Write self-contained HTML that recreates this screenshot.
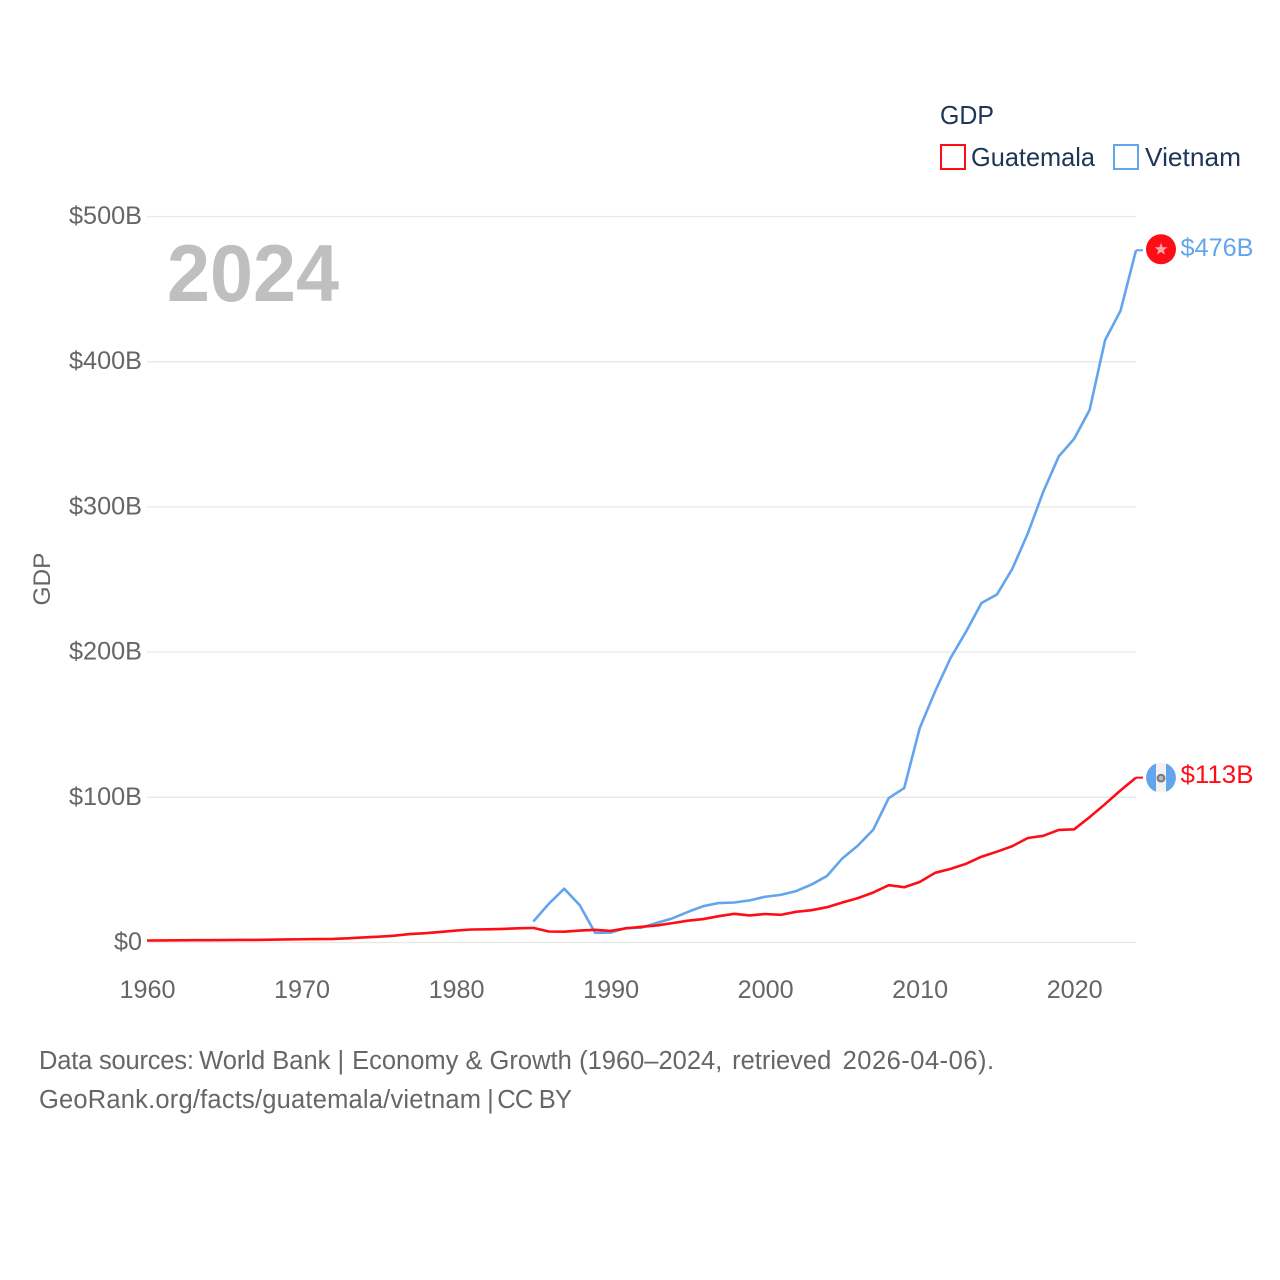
<!DOCTYPE html>
<html lang="en">
<head>
<meta charset="utf-8">
<title>GDP: Guatemala and Vietnam</title>
<style>
html,body{margin:0;padding:0;background:#fff;width:1280px;height:1280px;overflow:hidden}
svg{display:block}
text{font-family:"Liberation Sans",sans-serif}
</style>
</head>
<body>
<svg id="chart" width="1280" height="1280" viewBox="0 0 1280 1280" xmlns="http://www.w3.org/2000/svg">
  <rect width="1280" height="1280" fill="#fff"/>
  <g id="grid"></g>
  <g id="yticks"></g>
  <g id="xticks"></g>
  <text transform="translate(50,579) rotate(-90)" text-anchor="middle" font-size="24" fill="#666" textLength="53" lengthAdjust="spacingAndGlyphs">GDP</text>
  <text x="167" y="301" font-size="81" font-weight="700" fill="#bfbfbf" textLength="172" lengthAdjust="spacingAndGlyphs">2024</text>

  <g>
    <text x="940" y="124" font-size="26" fill="#1d3557" textLength="54" lengthAdjust="spacingAndGlyphs">GDP</text>
    <g>
      <rect x="941" y="145" width="24" height="24" fill="#fff" stroke="#ff0d17" stroke-width="2"/>
      <text x="971" y="166" font-size="26" fill="#1d3557" textLength="124" lengthAdjust="spacingAndGlyphs">Guatemala</text>
    </g>
    <g>
      <rect x="1114" y="145" width="24" height="24" fill="#fff" stroke="#62a5ee" stroke-width="2"/>
      <text x="1145" y="166" font-size="26" fill="#1d3557" textLength="96" lengthAdjust="spacingAndGlyphs">Vietnam</text>
    </g>
  </g>

  <g id="series" transform="translate(0,-0.5)"></g>
  <g id="ends"></g>

  <text y="1069" font-size="25.5" fill="#666"><tspan x="39" letter-spacing="-0.2">Data sources:</tspan><tspan x="192"> World Bank |</tspan><tspan x="345"> Economy &amp; Growth</tspan><tspan x="572"> (1960–2024,</tspan><tspan x="725"> retrieved</tspan><tspan x="835" letter-spacing="0.5"> 2026-04-06).</tspan></text>
  <text y="1108" font-size="25.5" fill="#666"><tspan x="39" letter-spacing="0.2">GeoRank.org/facts/guatemala/vietnam</tspan><tspan x="480"> |</tspan><tspan x="491" letter-spacing="-0.8"> CC BY</tspan></text>
</svg>
<script>
const years = [1960,1961,1962,1963,1964,1965,1966,1967,1968,1969,1970,1971,1972,1973,1974,1975,1976,1977,1978,1979,1980,1981,1982,1983,1984,1985,1986,1987,1988,1989,1990,1991,1992,1993,1994,1995,1996,1997,1998,1999,2000,2001,2002,2003,2004,2005,2006,2007,2008,2009,2010,2011,2012,2013,2014,2015,2016,2017,2018,2019,2020,2021,2022,2023,2024];
const guatemalaGdp = [1.04,1.08,1.14,1.24,1.27,1.31,1.39,1.45,1.60,1.74,1.90,1.99,2.10,2.57,3.16,3.64,4.37,5.48,6.07,6.90,7.88,8.61,8.72,9.03,9.40,9.72,7.23,7.08,7.87,8.41,7.65,9.41,10.44,11.40,12.98,14.66,15.79,17.79,19.40,18.32,19.29,18.70,20.78,21.92,23.97,27.21,30.23,34.11,39.14,37.73,41.34,47.65,50.39,53.85,58.72,62.19,66.05,71.62,73.14,77.17,77.6,86.0,95.0,104.4,113.2];
const vietnamGdp = [null,null,null,null,null,null,null,null,null,null,null,null,null,null,null,null,null,null,null,null,null,null,null,null,null,14.1,26.3,36.7,25.4,6.3,6.47,9.61,9.87,13.18,16.29,20.74,24.66,26.84,27.21,28.68,31.17,32.45,35.06,39.55,45.43,57.63,66.37,77.41,99.13,106.01,147.2,172.6,195.6,213.7,233.5,239.3,257.1,281.4,310.1,334.4,346.6,366.5,414.5,434.8,476.4];
const yTickValues = [0,100,200,300,400,500];
const yTickLabels = ["$0","$100B","$200B","$300B","$400B","$500B"];
const xTickValues = [1960,1970,1980,1990,2000,2010,2020];
const xTickLabels = ["1960","1970","1980","1990","2000","2010","2020"];

const NS = 'http://www.w3.org/2000/svg';
const xScale = yr => 147 + (yr - 1960) * (1136 - 147) / 64;
const yScale = v => 942.5 - v * (942.5 - 216.5) / 500;
function mk(tag, attrs, parent, txt) {
  const el = document.createElementNS(NS, tag);
  for (const k in attrs) el.setAttribute(k, attrs[k]);
  if (txt !== undefined) el.textContent = txt;
  parent.appendChild(el);
  return el;
}

const grid = document.getElementById('grid');
const yticks = document.getElementById('yticks');
yTickValues.forEach((v, i) => {
  const line = mk('line', {x1: 147, x2: 1136, y1: yScale(v), y2: yScale(v), stroke: '#e8e8e8', 'stroke-width': 1.3}, grid);
  
  
  const label = mk('text', {x: 142, y: yScale(v) + 7.5, 'text-anchor': 'end', 'font-size': 25, fill: '#666'}, yticks, yTickLabels[i]);
  
  
  label.setAttribute('textLength', v === 0 ? 28 : 73);
  label.setAttribute('lengthAdjust', 'spacingAndGlyphs');
});

const xticks = document.getElementById('xticks');
xTickValues.forEach((yr, i) => {
  const label = mk('text', {x: xScale(yr) + 0.5, y: 998, 'text-anchor': 'middle', 'font-size': 25, fill: '#666'}, xticks, xTickLabels[i]);
  
  
  label.setAttribute('textLength', 56);
  label.setAttribute('lengthAdjust', 'spacingAndGlyphs');
});

const seriesG = document.getElementById('series');
function linePath(values) {
  let d = '';
  values.forEach((v, i) => {
    if (v === null) return;
    d += (d ? 'L' : 'M') + xScale(years[i]).toFixed(2) + ' ' + yScale(v).toFixed(2);
  });
  return d;
}
const vietnamLine = mk('path', {d: linePath(vietnamGdp), fill: 'none', stroke: '#62a5ee', 'stroke-width': 2.6, 'stroke-linejoin': 'round'}, seriesG);


const guatemalaLine = mk('path', {d: linePath(guatemalaGdp), fill: 'none', stroke: '#ff0d17', 'stroke-width': 2.6, 'stroke-linejoin': 'round'}, seriesG);



const ends = document.getElementById('ends');
const lastIdx = years.length - 1;
const vY = yScale(vietnamGdp[lastIdx]);
const gY = yScale(guatemalaGdp[lastIdx]);

const vLead = mk('line', {x1: xScale(2024), x2: 1143, y1: vY - 0.5, y2: vY - 0.5, stroke: '#62a5ee', 'stroke-width': 2}, ends);


const gLead = mk('line', {x1: xScale(2024), x2: 1143, y1: gY - 0.5, y2: gY - 0.5, stroke: '#ff0d17', 'stroke-width': 2}, ends);



const vFlag = mk('g', {transform: 'translate(1161,' + (vY - 1.5) + ')'}, ends);


mk('circle', {r: 15, fill: '#ff0d17'}, vFlag);
mk('polygon', {points: '0,-6.5 1.7,-2 6.5,-2 2.7,0.9 4.1,5.4 0,2.7 -4.1,5.4 -2.7,0.9 -6.5,-2 -1.7,-2', fill: '#ffa5a5'}, vFlag);

const gFlag = mk('g', {transform: 'translate(1161,' + (gY - 0.5) + ')'}, ends);


mk('circle', {r: 15, fill: '#f2f2f2'}, gFlag);
mk('path', {d: 'M-5 -14.1A15 15 0 0 0 -5 14.1Z', fill: '#62a5ee'}, gFlag);
mk('path', {d: 'M5 -14.1A15 15 0 0 1 5 14.1Z', fill: '#62a5ee'}, gFlag);
mk('circle', {r: 3.4, cy: 0.5, fill: '#bbb', stroke: '#777', 'stroke-width': 2}, gFlag);

const vLabel = mk('text', {x: 1180.5, y: vY + 5, 'font-size': 25, fill: '#62a5ee'}, ends, '$' + Math.round(vietnamGdp[lastIdx]) + 'B');


vLabel.setAttribute('textLength', 73);
vLabel.setAttribute('lengthAdjust', 'spacingAndGlyphs');
const gLabel = mk('text', {x: 1180.5, y: gY + 5, 'font-size': 25, fill: '#ff0d17'}, ends, '$' + Math.round(guatemalaGdp[lastIdx]) + 'B');


gLabel.setAttribute('textLength', 73);
gLabel.setAttribute('lengthAdjust', 'spacingAndGlyphs');
</script>
</body>
</html>
